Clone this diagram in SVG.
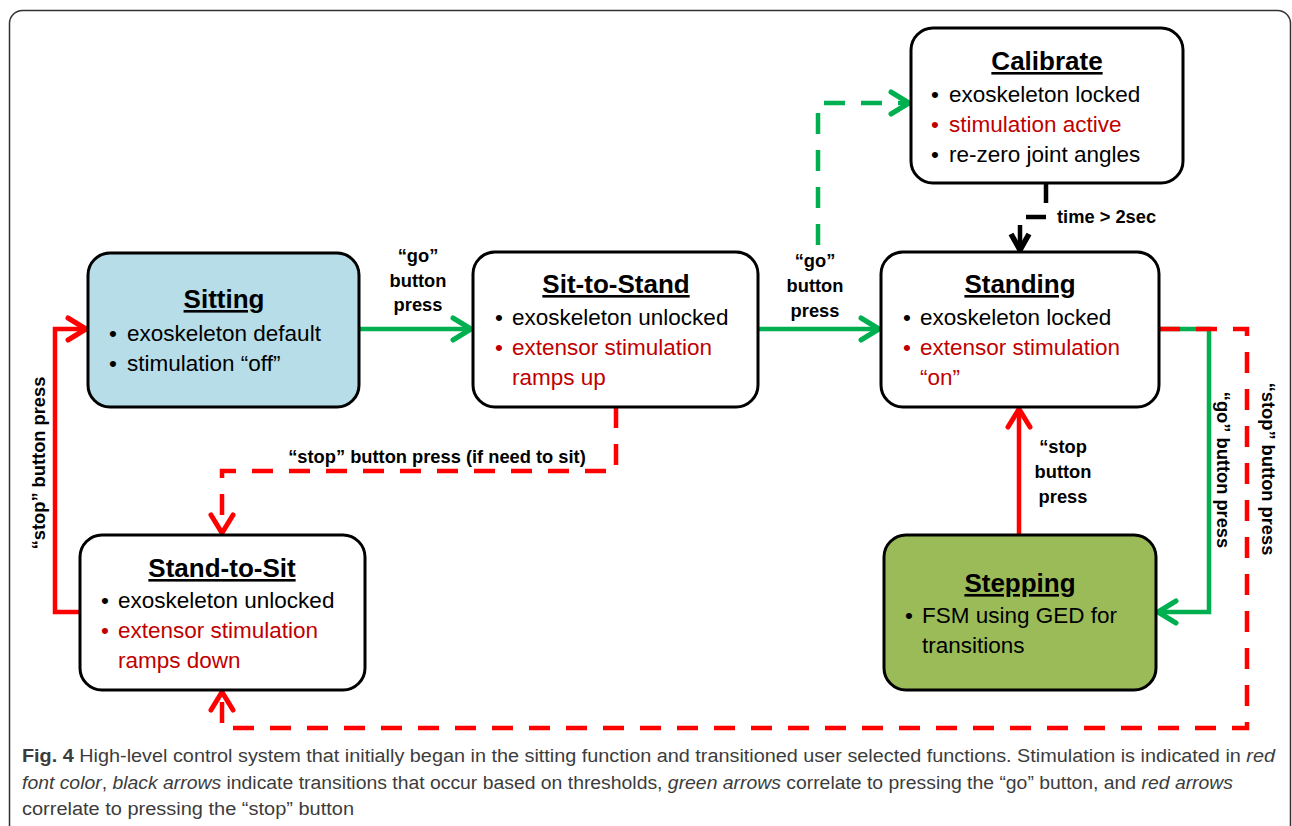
<svg xmlns="http://www.w3.org/2000/svg" width="1292" height="826" viewBox="0 0 1292 826">
<style>
.box{stroke:#000;stroke-width:3}
.t{font-family:"Liberation Sans",Arial,sans-serif;font-weight:bold;font-size:26px;text-anchor:middle;text-decoration:underline;fill:#000}
.b{font-family:"Liberation Sans",Arial,sans-serif;font-size:22.5px;fill:#000}
.d{text-anchor:middle}
.r{fill:#c00000}
.lb{font-family:"Liberation Sans",Arial,sans-serif;font-weight:bold;font-size:18.3px;fill:#000}
.c{font-family:"Liberation Sans",Arial,sans-serif;font-size:18px;fill:#3c3c3c}
.g{fill:none;stroke:#00b050;stroke-width:4.5}
.rd{fill:none;stroke:#ff0000;stroke-width:4.5}
.dash{stroke-dasharray:21 16}
</style>
<defs>
<marker id="ag" markerUnits="userSpaceOnUse" markerWidth="30" markerHeight="30" viewBox="0 0 30 30" refX="25" refY="15" orient="auto"><path d="M7,4 L25,15 L7,26" fill="none" stroke="#00b050" stroke-width="5" stroke-linejoin="round" stroke-linecap="round"/></marker>
<marker id="ar" markerUnits="userSpaceOnUse" markerWidth="30" markerHeight="30" viewBox="0 0 30 30" refX="25" refY="15" orient="auto"><path d="M7,4 L25,15 L7,26" fill="none" stroke="#ff0000" stroke-width="5" stroke-linejoin="round" stroke-linecap="round"/></marker>
<marker id="ak" markerUnits="userSpaceOnUse" markerWidth="30" markerHeight="30" viewBox="0 0 30 30" refX="25" refY="15" orient="auto"><path d="M9,6 L25,15 L9,24" fill="none" stroke="#000" stroke-width="5.5" stroke-linejoin="miter"/></marker>
</defs>
<rect x="9.5" y="10.5" width="1281" height="840" rx="13" fill="#fff" stroke="#333" stroke-width="1.5"/>

<g id="connectors">
<path class="g" d="M359,329 H471" marker-end="url(#ag)"/>
<path class="g" d="M758,329 H879" marker-end="url(#ag)"/>
<path class="g dash" d="M818,245 V103 H909" marker-end="url(#ag)"/>
<path d="M1046,183 V217 H1020 V250" fill="none" stroke="#000" stroke-width="4.5" stroke-dasharray="20 14" marker-end="url(#ak)"/>
<path class="rd dash" d="M616,407 V471 H222 V533" marker-end="url(#ar)"/>
<path class="rd" d="M80,612 H55 V329 H86" marker-end="url(#ar)"/>
<path class="g" d="M1159,329 H1209 V612 H1158" marker-end="url(#ag)"/>
<path class="rd dash" d="M1159,329 H1247 V728 H222 V692" marker-end="url(#ar)"/>
<path class="rd" d="M1019,535 V409" marker-end="url(#ar)"/>
<g class="lb" text-anchor="middle">
<text x="418" y="262">“go”</text>
<text x="418" y="287">button</text>
<text x="418" y="311">press</text>
<text x="815" y="267">“go”</text>
<text x="815" y="292">button</text>
<text x="815" y="317">press</text>
<text x="437" y="463">“stop” button press (if need to sit)</text>
<text x="1063" y="453">“stop</text>
<text x="1063" y="478">button</text>
<text x="1063" y="503">press</text>
<text transform="translate(45,463) rotate(-90)">“stop” button press</text>
<text transform="translate(1217,470) rotate(90)">“go” button press</text>
<text transform="translate(1262,469) rotate(90)">“stop” button press</text>
</g>
<text class="lb" x="1057" y="223">time &gt; 2sec</text>
</g>

<g id="sitting">
<rect class="box" x="88" y="253" width="271" height="154" rx="22" fill="#b7dde8"/>
<text class="t" x="224" y="308">Sitting</text>
<text class="b d" x="113" y="341">•</text><text class="b" x="127" y="341">exoskeleton default</text>
<text class="b d" x="113" y="371">•</text><text class="b" x="127" y="371">stimulation “off”</text>
</g>

<g id="sit-to-stand">
<rect class="box" x="473" y="252" width="285" height="155" rx="22" fill="#fff"/>
<text class="t" x="616" y="293">Sit-to-Stand</text>
<text class="b d" x="499" y="325">•</text><text class="b" x="512" y="325">exoskeleton unlocked</text>
<text class="b d r" x="499" y="355">•</text><text class="b r" x="512" y="355">extensor stimulation</text>
<text class="b r" x="512" y="385">ramps up</text>
</g>

<g id="standing">
<rect class="box" x="881" y="252" width="278" height="155" rx="22" fill="#fff"/>
<text class="t" x="1020" y="293">Standing</text>
<text class="b d" x="907" y="325">•</text><text class="b" x="920" y="325">exoskeleton locked</text>
<text class="b d r" x="907" y="355">•</text><text class="b r" x="920" y="355">extensor stimulation</text>
<text class="b r" x="920" y="385">“on”</text>
</g>

<g id="calibrate">
<rect class="box" x="911" y="28" width="272" height="155" rx="22" fill="#fff"/>
<text class="t" x="1047" y="70">Calibrate</text>
<text class="b d" x="935" y="102">•</text><text class="b" x="949" y="102">exoskeleton locked</text>
<text class="b d r" x="935" y="132">•</text><text class="b r" x="949" y="132">stimulation active</text>
<text class="b d" x="935" y="162">•</text><text class="b" x="949" y="162">re-zero joint angles</text>
</g>

<g id="stand-to-sit">
<rect class="box" x="80" y="535" width="285" height="155" rx="22" fill="#fff"/>
<text class="t" x="222" y="577">Stand-to-Sit</text>
<text class="b d" x="105" y="608">•</text><text class="b" x="118" y="608">exoskeleton unlocked</text>
<text class="b d r" x="105" y="638">•</text><text class="b r" x="118" y="638">extensor stimulation</text>
<text class="b r" x="118" y="668">ramps down</text>
</g>

<g id="stepping">
<rect class="box" x="884" y="535" width="272" height="155" rx="22" fill="#9bbb59"/>
<text class="t" x="1020" y="592">Stepping</text>
<text class="b d" x="909" y="623">•</text><text class="b" x="922" y="623">FSM using GED for</text>
<text class="b" x="922" y="653">transitions</text>
</g>

<g id="caption">
<text class="c" x="22" y="762" textLength="1253" lengthAdjust="spacingAndGlyphs"><tspan font-weight="bold">Fig. 4</tspan> High-level control system that initially began in the sitting function and transitioned user selected functions. Stimulation is indicated in <tspan font-style="italic">red</tspan></text>
<text class="c" x="22" y="789" textLength="1211" lengthAdjust="spacingAndGlyphs"><tspan font-style="italic">font color</tspan>, <tspan font-style="italic">black arrows</tspan> indicate transitions that occur based on thresholds, <tspan font-style="italic">green arrows</tspan> correlate to pressing the “go” button, and <tspan font-style="italic">red arrows</tspan></text>
<text class="c" x="22" y="815" textLength="332" lengthAdjust="spacingAndGlyphs">correlate to pressing the “stop” button</text>
</g>
</svg>
